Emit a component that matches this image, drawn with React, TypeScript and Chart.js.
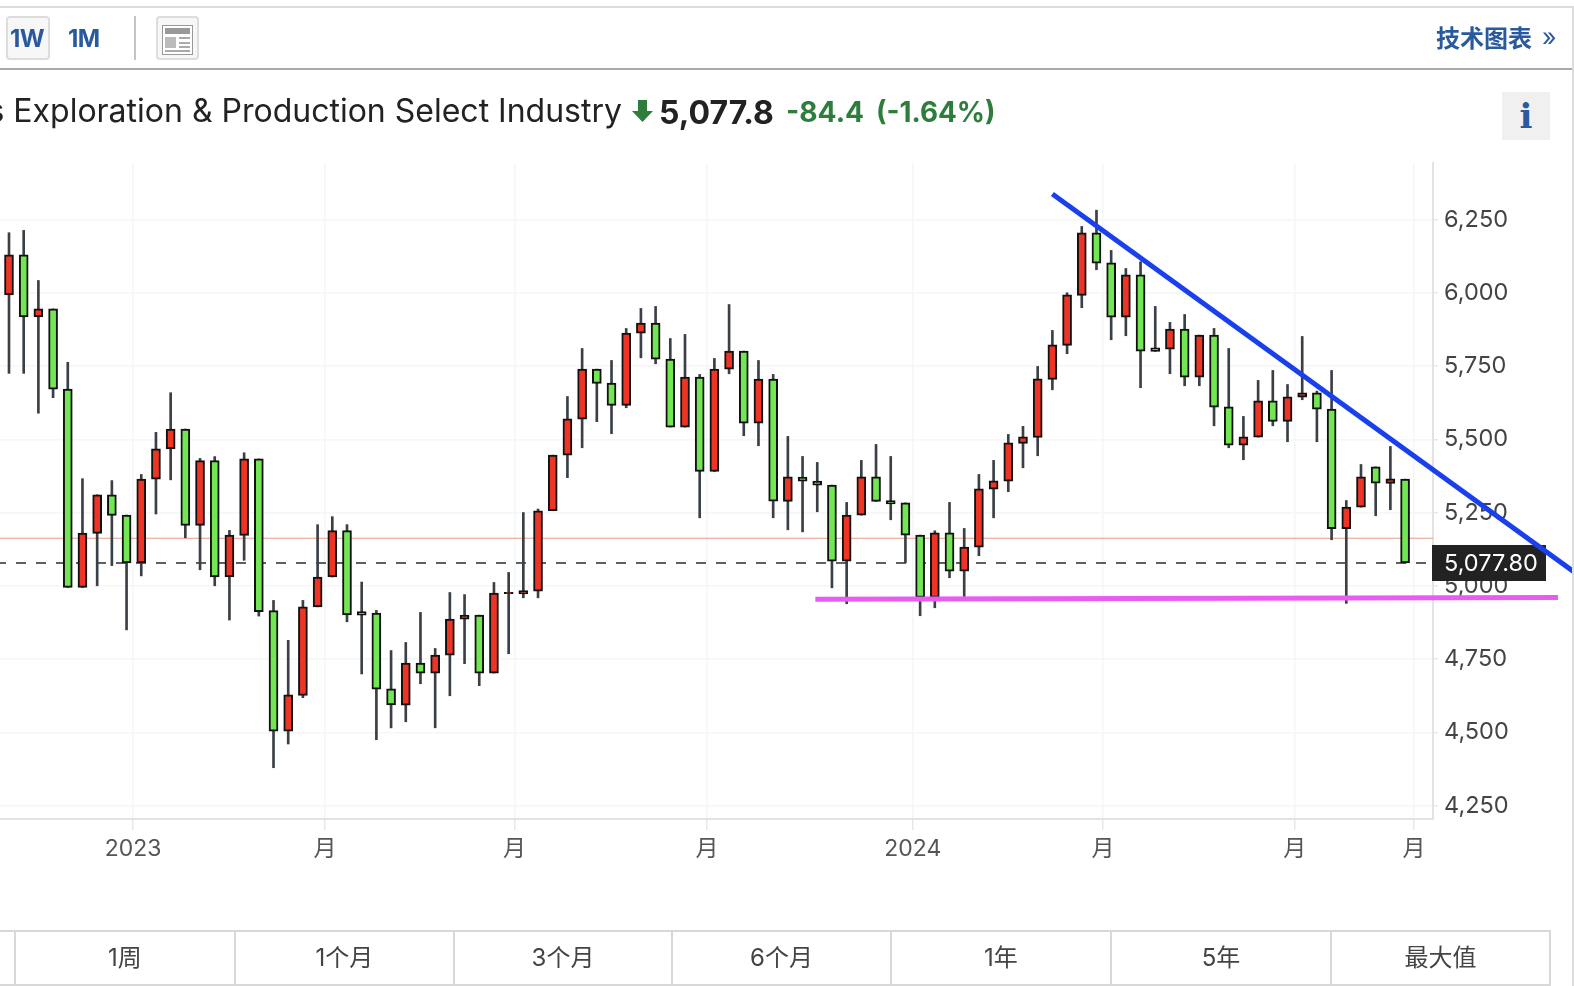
import React, { useEffect, useRef } from "react";
import { Chart, registerables } from "chart.js";

Chart.register(...registerables);

const opens = [5992.5,6130,5918,5945,5671,4994.5,5178.7,5310.6,5241.4,5078,5364,5467,5535,5206,5427,5030,5172,5433,4915,4503.4,4626,4928,5030,5188,4912,4907,4648.4,4592.7,4736,4702,4763.4,4886,4900,4702,4973,4972,4982,5256,5446,5569,5739.5,5692,5615.5,5862.4,5896.5,5773.7,5541.6,5712,5390,5739.5,5801,5555,5705.4,5288,5371,5357,5343.7,5084,5241,5372,5291,5283,5173,4960,5181,5050,5132,5330,5357,5486,5506,5704.3,5820.4,5991,6205,6102.5,5917,6061.6,5812,5808,5876,5712.3,5855.7,5611,5480,5507.5,5631.5,5561,5644,5658.8,5603,5194.6,5268.6,5406,5349,5364];
const closes = [6130,5918,5945.4,5671,4994.5,5180,5310.6,5240,5078,5364,5467.4,5535,5206,5427,5030,5173,5433.4,4912,4503.4,4627.5,4928,5030,5188,4900.4,4900,4647,4593.6,4736,4702,4763.4,4886,4900,4702,4975,4978,4984,5256,5446,5570,5739.5,5690.6,5615.5,5862.4,5896.5,5773.7,5541.6,5712,5390,5739.5,5801,5555,5705.4,5289,5372,5357,5343.7,5084,5241,5372,5288,5279,5173,4960,5181,5050,5132,5331,5358.4,5488,5508.6,5706.6,5822.6,5993.3,6205,6101.4,5917,6061.6,5801,5800,5876,5712.3,5855.7,5610,5480,5508.6,5631.5,5561,5645,5658.8,5603,5194.6,5268.6,5372,5350.5,5365,5077.8];
const highs = [6205,6213,6042,5945,5762.6,5365.5,5310.6,5359,5241.4,5380,5523.6,5659,5535,5434.7,5441,5189,5454,5433,4950,4814,4950,5208.7,5236,5208.7,5012.8,4916,4779,4806.6,4909,4786,4977,4970,4900,5011.4,5045.5,5250,5262,5446,5646,5810,5739.5,5769,5878.3,5946.6,5953.4,5844,5858,5721.3,5776,5960,5801,5769,5721.4,5509.8,5441.5,5421,5343.7,5284.5,5428,5482.5,5441.5,5283,5173,5187.8,5284.5,5195.7,5380,5428,5516.6,5544,5748.7,5871.6,6000,6226.5,6282,6144.6,6083,6106,5953.5,5899,5926,5855.7,5878.4,5810,5578,5701,5735,5687,5851,5664.5,5735,5291,5414,5406,5475.6,5364];
const lows = [5725,5725,5589,5642,4994,4994,5000,5069,4849.5,5033.7,5245,5361.6,5164,5054.6,5000,4883,5087,4896.6,4379,4460,4618,4928,5030,4877,4699,4474.6,4515,4535.8,4665.6,4515.3,4624.6,4734,4659,4702,4768,4959,4959,5256,5369,5471,5560,5519,5607.6,5778,5757.7,5541.6,5541.6,5232,5390,5723.6,5512,5478,5232,5191,5184,5252.6,4993,4938.7,5241,5288,5225.3,5078.6,4897.7,4925,5027.4,4960,5102.5,5232,5321,5402.8,5443.8,5669,5792,5949,6078.6,5839.7,5853.4,5676,5800,5723.7,5682.7,5682.7,5546,5471,5430,5507.5,5546,5491.6,5635,5491.6,5157,4939.8,5268.6,5239,5259.5,5077.8];

const lastPrice = 5077.8;
const prevClose = 5162.2;
const resistanceX = [71.0, 106.5];
const resistanceY = [6337, 5047];
const supportX = [54.87, 105.4];
const supportY = [4954, 4960];

const yTickValues = [4250, 4500, 4750, 5000, 5250, 5500, 5750, 6000, 6250];
const xTickValues = [8.44, 21.5, 34.4, 47.5, 61.5, 74.45, 87.5, 95.6];
const xTickLabels = ["2023", "月", "月", "月", "2024", "月", "月", "月"];
const ranges = ["1周", "1个月", "3个月", "6个月", "1年", "5年", "最大值"];

const X_MIN = -0.612;
const X_MAX = 96.9;
const Y_MIN = 4204;
const Y_MAX = 6443;

const FONT = "Inter, 'Noto Sans CJK SC', sans-serif";
const CJK = "'Noto Sans CJK SC', Inter, sans-serif";
const BLUE = "#2a5a9e";

const up = "#ee3424";
const down = "#72e653";

export default function App() {
  const ref = useRef<HTMLCanvasElement | null>(null);

  useEffect(() => {
    const idx = closes.map((_, i) => i);
    const tagPlugin = {
      id: "lastTag",
      beforeDatasetsDraw(chart: any) {
        const { ctx, scales } = chart;
        const y = scales.y.getPixelForValue(lastPrice);
        ctx.save();
        ctx.fillStyle = "#222222";
        ctx.fillRect(1432, y - 18, 114, 36);
        ctx.fillStyle = "#ffffff";
        ctx.font = `23.5px ${FONT}`;
        ctx.textBaseline = "middle";
        ctx.textAlign = "left";
        ctx.fillText(lastPrice.toFixed(2).replace(/^(\d)(\d{3})/, "$1,$2"), 1444, y + 1);
        ctx.restore();
      },
    };
    const chart = new Chart(ref.current as HTMLCanvasElement, {
      type: "bar",
      plugins: [tagPlugin],
      data: {
        datasets: [
          {
            type: "line",
            order: 0,
            data: resistanceX.map((x, i) => ({ x, y: resistanceY[i] })),
            borderColor: "#1a40ee",
            borderWidth: 5,
            pointRadius: 0,
            clip: false,
          },
          {
            type: "line",
            order: 1,
            data: supportX.map((x, i) => ({ x, y: supportY[i] })),
            borderColor: "#e95cf2",
            borderWidth: 5,
            pointRadius: 0,
            clip: false,
          },
          {
            order: 2,
            grouped: false,
            barThickness: 9,
            data: idx.map((i) => ({ x: i, y: [opens[i], closes[i]] })),
            backgroundColor: idx.map((i) => (closes[i] >= opens[i] ? up : down)),
            borderColor: "#111111",
            borderWidth: 2,
            borderSkipped: false,
          },
          {
            order: 3,
            grouped: false,
            barThickness: 2,
            data: idx.map((i) => ({ x: i, y: [lows[i], highs[i]] })),
            backgroundColor: "#3a4045",
            borderWidth: 0,
          },
          {
            type: "line",
            order: 4,
            data: [{ x: X_MIN, y: lastPrice }, { x: 96.55, y: lastPrice }],
            borderColor: "#3a3a3a",
            borderWidth: 1.6,
            borderDash: [10, 10],
            borderDashOffset: 4,
            pointRadius: 0,
          },
          {
            type: "line",
            order: 5,
            data: [{ x: X_MIN, y: prevClose }, { x: X_MAX, y: prevClose }],
            borderColor: "#e89a8a",
            borderWidth: 1,
            pointRadius: 0,
          },
        ] as any,
      },
      options: {
        animation: false,
        responsive: false,
        events: [],
        layout: { padding: { left: 0, right: 0, top: 163, bottom: 0 } },
        plugins: { legend: { display: false }, tooltip: { enabled: false } },
        scales: {
          x: {
            type: "linear",
            offset: false,
            min: X_MIN,
            max: X_MAX,
            afterBuildTicks: (s: any) => {
              s.ticks = xTickValues.map((value) => ({ value }));
            },
            afterFit: (s: any) => {
              s.height = 167;
            },
            grid: { offset: false, color: "#f5f6f8", lineWidth: 1.5, tickColor: "#e6e8ec", tickLength: 11, drawTicks: true },
            border: { color: "#e0e3e8", width: 2 },
            ticks: {
              autoSkip: false,
              maxRotation: 0,
              padding: 5,
              color: "#555555",
              font: { family: FONT, size: 23 },
              callback: (_v: any, i: number) => xTickLabels[i],
            },
          },
          y: {
            type: "linear",
            position: "right",
            min: Y_MIN,
            max: Y_MAX,
            afterBuildTicks: (s: any) => {
              s.ticks = yTickValues.map((value) => ({ value }));
            },
            afterFit: (s: any) => {
              s.width = 141;
            },
            grid: { color: "#f5f6f8", lineWidth: 1.5, tickColor: "#e6e8ec", tickLength: 5 },
            border: { color: "#e0e3e8", width: 2 },
            ticks: {
              padding: 6,
              color: "#444444",
              font: { family: FONT, size: 23.5 },
              callback: (v: any) => Number(v).toLocaleString("en-US"),
            },
          },
        },
      } as any,
    });
    return () => chart.destroy();
  }, []);

  const box = (s: React.CSSProperties): React.CSSProperties => ({ position: "absolute", boxSizing: "border-box", ...s });
  const text = (s: React.CSSProperties): React.CSSProperties => ({ position: "absolute", whiteSpace: "nowrap", fontFamily: FONT, ...s });
  const dividers = [16, 236, 455, 673, 892, 1112, 1332, 1551];

  return (
    <div style={{ position: "absolute", left: 0, top: 0, width: 1574, height: 986, overflow: "hidden", background: "#fff" }}>
      <canvas ref={ref} width={1574} height={986} style={{ position: "absolute", left: 0, top: 0, width: 1574, height: 986, display: "block" }} />

      {/* toolbar and panel edge */}
      <div style={box({ left: -10, top: 6, width: 1584, height: 64, borderTop: "2px solid #dcdcdc", borderBottom: "2px solid #a9a9a9" })} />
      <div style={box({ left: 1572, top: 7, width: 2, height: 979, background: "#dcdcdc" })} />
      <div style={box({ left: 6, top: 16, width: 44, height: 44, background: "#f7f7f7", border: "2px solid #dddddd", borderRadius: 4 })} />
      <span style={text({ left: 10, top: 23, fontSize: 24, lineHeight: "32px", fontWeight: 700, color: BLUE, letterSpacing: -0.5 })}>1W</span>
      <span style={text({ left: 68, top: 23, fontSize: 24, lineHeight: "32px", fontWeight: 700, color: BLUE, letterSpacing: -0.5 })}>1M</span>
      <div style={box({ left: 134, top: 16, width: 2, height: 44, background: "#c4c4c4" })} />
      <div style={box({ left: 156, top: 16, width: 43, height: 44, background: "#f7f7f7", border: "2px solid #dddddd", borderRadius: 4 })} />
      <svg style={{ position: "absolute", left: 162, top: 25 }} width="31" height="31" viewBox="0 0 31 31">
        <rect x="0.5" y="0.5" width="30" height="29" fill="#fff" stroke="#999" />
        <rect x="3" y="3" width="25" height="6" fill="#999" />
        <rect x="3" y="12" width="11" height="11" fill="#bbb" />
        <rect x="17" y="12" width="11" height="2" fill="#aaa" />
        <rect x="17" y="17" width="11" height="2" fill="#aaa" />
        <rect x="17" y="21" width="11" height="2" fill="#aaa" />
        <rect x="3" y="25" width="25" height="2" fill="#aaa" />
      </svg>
      <span style={text({ left: 1436, top: 19, fontSize: 24, lineHeight: "36px", fontWeight: 700, color: BLUE, fontFamily: CJK })}>技术图表</span>
      <span style={text({ left: 1542, top: 19, fontSize: 25, lineHeight: "36px", color: BLUE })}>»</span>

      {/* title row */}
      <span style={text({ right: 1574 - 622, top: 90, fontSize: 32, lineHeight: "42px", color: "#222222", letterSpacing: 0 })}>S&amp;P Oil &amp; Gas Exploration &amp; Production Select Industry</span>
      <svg style={{ position: "absolute", left: 632, top: 100 }} width="21" height="22" viewBox="0 0 21 22">
        <path d="M6 0H15V11H21L10.5 22L0 11H6Z" fill="#2e7d3c" />
      </svg>
      <span style={text({ left: 659, top: 91, fontSize: 32, lineHeight: "44px", fontWeight: 700, color: "#222222" })}>5,077.8</span>
      <span style={text({ left: 786, top: 91, fontSize: 28.2, lineHeight: "42px", fontWeight: 700, color: "#2e7d3c" })}>-84.4</span>
      <span style={text({ left: 876, top: 91, fontSize: 27.8, lineHeight: "42px", fontWeight: 700, color: "#2e7d3c" })}>(-1.64%)</span>
      <div style={box({ left: 1502, top: 92, width: 48, height: 48, background: "#f0f0f0" })} />
      <span style={text({ left: 1502, width: 48, textAlign: "center", top: 94, fontSize: 34, lineHeight: "44px", fontWeight: 700, color: BLUE, fontFamily: "'DejaVu Serif', serif" })}>i</span>

      {/* range row */}
      <div style={box({ left: -4, top: 930, width: 1555, height: 56, borderTop: "2.5px solid #d8d8d8", borderBottom: "2px solid #d8d8d8" })} />
      {dividers.map((x) => (
        <div key={x} style={box({ left: x - 2, top: 930, width: 2, height: 56, background: "#d8d8d8" })} />
      ))}
      {ranges.map((r, i) => (
        <span
          key={r}
          style={text({ left: dividers[i] - 1, width: dividers[i + 1] - dividers[i], textAlign: "center", top: 941, lineHeight: "34px", fontSize: 24, color: "#444444" })}
        >
          {r}
        </span>
      ))}
    </div>
  );
}
